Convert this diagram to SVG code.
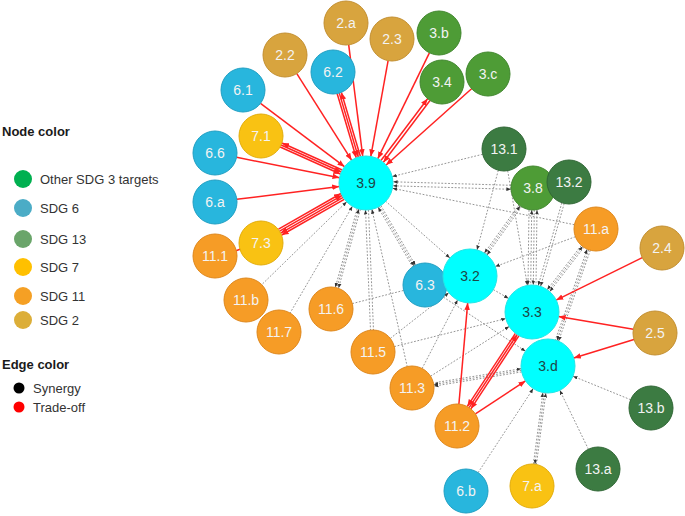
<svg xmlns="http://www.w3.org/2000/svg" width="685" height="516" viewBox="0 0 685 516">
<style>
.bg{fill:#ffffff}
.r{stroke:#ff2222;stroke-width:1.5;fill:none}
.s{stroke:#959595;stroke-width:1;stroke-dasharray:1.8 1.6;fill:none}
.rm{marker-end:url(#ra)}
.rs{marker-start:url(#ra)}
.sm{marker-end:url(#ga)}
.ss{marker-start:url(#ga)}
circle{stroke-width:1}
.cy{fill:#00ffff;stroke:#22e6e6}
.bl{fill:#28b6dd;stroke:#1f9fc3}
.gd{fill:#d8a43e;stroke:#c38f30}
.gr{fill:#4e9c36;stroke:#40872d}
.dg{fill:#3c7b42;stroke:#306735}
.ye{fill:#f9c213;stroke:#e3ad0b}
.or{fill:#f69c26;stroke:#df871b}
text{font-family:"Liberation Sans",Arial,sans-serif}
.t{font-size:14px;fill:#f3f3f3;text-anchor:middle}
.tc{font-size:14px;fill:#1d4646;text-anchor:middle}
.lh{font-size:13px;font-weight:bold;fill:#1a1a1a}
.lt{font-size:13px;fill:#333333}
</style>
<defs>
<marker id="ra" viewBox="0 0 10 10" refX="10" refY="5" markerWidth="7" markerHeight="7" markerUnits="userSpaceOnUse" orient="auto-start-reverse"><path d="M0,1 L10,5 L0,9 z" fill="#ff2222"/></marker>
<marker id="ga" viewBox="0 0 10 10" refX="10" refY="5" markerWidth="4.5" markerHeight="4.5" markerUnits="userSpaceOnUse" orient="auto-start-reverse"><path d="M0,1 L10,5 L0,9 z" fill="#333333"/></marker>
</defs>
<rect class="bg" x="0" y="0" width="685" height="516"/>

<g id="legend">
<text class="lh" x="2" y="136">Node color</text>
<circle cx="23" cy="179" r="9" style="fill:#00b050;stroke:none"/>
<text class="lt" x="40" y="184">Other SDG 3 targets</text>
<circle cx="23" cy="208" r="9" style="fill:#4bacc6;stroke:none"/>
<text class="lt" x="40" y="213">SDG 6</text>
<circle cx="23" cy="239" r="9" style="fill:#6aa56a;stroke:none"/>
<text class="lt" x="40" y="244">SDG 13</text>
<circle cx="23" cy="267" r="9" style="fill:#ffc000;stroke:none"/>
<text class="lt" x="40" y="272">SDG 7</text>
<circle cx="23" cy="296" r="9" style="fill:#f5a024;stroke:none"/>
<text class="lt" x="40" y="301">SDG 11</text>
<circle cx="23" cy="320" r="9" style="fill:#dcae38;stroke:none"/>
<text class="lt" x="40" y="325">SDG 2</text>
<text class="lh" x="2" y="369">Edge color</text>
<circle cx="19" cy="388" r="5.5" style="fill:#000000;stroke:none"/>
<text class="lt" x="33" y="393">Synergy</text>
<circle cx="19" cy="407" r="5.5" style="fill:#ff0000;stroke:none"/>
<text class="lt" x="33" y="412">Trade-off</text>
</g>

<g id="connectors">
<line class="s sm" x1="482.6" y1="154.3" x2="392.2" y2="176.5"/>
<line class="s sm" x1="511.1" y1="185.3" x2="393.1" y2="181.8"/>
<line class="s sm ss" x1="510.9" y1="189.3" x2="392.9" y2="185.8"/>
<line class="s sm" x1="574.4" y1="224.7" x2="392.5" y2="188.3"/>
<line class="s sm" x1="498.3" y1="170.3" x2="477" y2="249.9"/>
<line class="s sm" x1="507.7" y1="170.7" x2="527.4" y2="285.4"/>
<line class="s sm" x1="518.9" y1="205" x2="484.4" y2="253.1"/>
<line class="s ss" x1="520.2" y1="205.9" x2="485.7" y2="254"/>
<line class="s sm" x1="521.5" y1="206.8" x2="487" y2="254.9"/>
<line class="s sm" x1="529" y1="210" x2="528" y2="285"/>
<line class="s ss" x1="531.7" y1="210" x2="530.7" y2="285"/>
<line class="s sm" x1="534.3" y1="210" x2="533.3" y2="285"/>
<line class="s ss" x1="537" y1="210" x2="536" y2="285"/>
<line class="s sm" x1="561.8" y1="202.9" x2="538.2" y2="285.7"/>
<line class="s sm" x1="564.2" y1="203.5" x2="540.6" y2="286.3"/>
<line class="s sm" x1="575.4" y1="236.7" x2="495.3" y2="266.6"/>
<line class="s sm" x1="581.3" y1="245.5" x2="547.2" y2="289.7"/>
<line class="s ss" x1="582.6" y1="246.4" x2="548.5" y2="290.6"/>
<line class="s sm" x1="583.9" y1="247.3" x2="549.8" y2="291.5"/>
<line class="s ss" x1="587.1" y1="249.3" x2="555.4" y2="340"/>
<line class="s sm" x1="588.7" y1="249.8" x2="557" y2="340.5"/>
<line class="s sm" x1="590.3" y1="250.3" x2="558.6" y2="341"/>
<line class="s ss" x1="378.1" y1="207.2" x2="412.6" y2="266.8"/>
<line class="s sm" x1="379.5" y1="206.4" x2="414" y2="266"/>
<line class="s sm" x1="380.9" y1="205.6" x2="415.4" y2="265.2"/>
<line class="s sm" x1="357.2" y1="208.6" x2="335.3" y2="287.4"/>
<line class="s ss" x1="358.8" y1="209" x2="336.9" y2="287.8"/>
<line class="s sm" x1="360.4" y1="209.4" x2="338.5" y2="288.2"/>
<line class="s ss" x1="346.7" y1="201.8" x2="261.8" y2="284.6"/>
<line class="s ss" x1="352.4" y1="206.3" x2="290.1" y2="313"/>
<line class="s ss" x1="365.5" y1="210" x2="370.5" y2="330"/>
<line class="s" x1="368.5" y1="210" x2="373.5" y2="330"/>
<line class="s ss" x1="371.9" y1="209.3" x2="407.2" y2="366.5"/>
<line class="s sm" x1="385.4" y1="201" x2="449.9" y2="258"/>
<line class="s sm" x1="443.4" y1="297.1" x2="525.5" y2="351.2"/>
<line class="s sm" x1="493.4" y1="289.6" x2="508.6" y2="298.4"/>
<line class="s" x1="352.3" y1="303.6" x2="403.7" y2="290.4"/>
<line class="s sm" x1="390.3" y1="338.4" x2="448.8" y2="292.7"/>
<line class="s sm" x1="394.3" y1="346.6" x2="505.8" y2="318.6"/>
<line class="s sm" x1="422.1" y1="368.5" x2="457.6" y2="300"/>
<line class="s sm" x1="430.6" y1="376.2" x2="509.2" y2="326.4"/>
<line class="s ss" x1="521.2" y1="368.7" x2="433.5" y2="382.9"/>
<line class="s sm" x1="521.4" y1="370.3" x2="433.7" y2="384.5"/>
<line class="s sm" x1="521.6" y1="371.9" x2="433.9" y2="386.1"/>
<line class="s sm" x1="478.1" y1="472.6" x2="533.2" y2="388.6"/>
<line class="s sm" x1="533.4" y1="464" x2="542.9" y2="392.6"/>
<line class="s ss" x1="534.9" y1="464.2" x2="544.4" y2="392.8"/>
<line class="s sm" x1="536.4" y1="464.4" x2="545.9" y2="393"/>
<line class="s sm" x1="588.4" y1="449.2" x2="559.8" y2="390.3"/>
<line class="s sm" x1="630.6" y1="399.7" x2="573" y2="376.2"/>
<line class="r rm" x1="348.7" y1="44.8" x2="362.7" y2="156.2"/>
<line class="r rm" x1="388.1" y1="60.7" x2="370.8" y2="156.4"/>
<line class="r rm" x1="429.4" y1="52.8" x2="377.8" y2="158.7"/>
<line class="r rm" x1="296.8" y1="73.6" x2="351.6" y2="160.2"/>
<line class="r rs" x1="341.4" y1="92.5" x2="360.4" y2="156.5"/>
<line class="r rm" x1="339.3" y1="93.1" x2="358.3" y2="157.1"/>
<line class="r rm" x1="337.2" y1="93.7" x2="356.2" y2="157.7"/>
<line class="r rm" x1="430" y1="100.5" x2="383.4" y2="162.3"/>
<line class="r rs" x1="427.6" y1="98.7" x2="381" y2="160.5"/>
<line class="r rm" x1="471.6" y1="88.7" x2="386.1" y2="165"/>
<line class="r rm" x1="260.5" y1="103.3" x2="344.5" y2="166.7"/>
<line class="r rs" x1="282" y1="143" x2="342.2" y2="170"/>
<line class="r rm" x1="281.1" y1="145" x2="341.3" y2="172"/>
<line class="r rm" x1="280.2" y1="147" x2="340.4" y2="174"/>
<line class="r rm" x1="236.6" y1="157.3" x2="339.5" y2="177.7"/>
<line class="r rm" x1="236.8" y1="199.3" x2="339.2" y2="186.4"/>
<line class="r rm" x1="278.5" y1="229.2" x2="341" y2="193.5"/>
<line class="r rm" x1="279.6" y1="231.1" x2="342.1" y2="195.4"/>
<line class="r rs" x1="280.7" y1="233.1" x2="343.2" y2="197.4"/>
<line class="r rs" x1="281.7" y1="235" x2="344.2" y2="199.3"/>
<line class="r" x1="234" y1="251.5" x2="242" y2="248.5"/>
<line class="r rm" x1="642.3" y1="257.7" x2="556.2" y2="300.1"/>
<line class="r rm" x1="633.3" y1="329.3" x2="558.6" y2="316.5"/>
<line class="r rm" x1="634" y1="339.5" x2="573.8" y2="358"/>
<line class="r rs" x1="467.3" y1="406.4" x2="515.4" y2="333.3"/>
<line class="r rm" x1="469.1" y1="407.6" x2="517.2" y2="334.5"/>
<line class="r rs" x1="470.9" y1="408.8" x2="519" y2="335.7"/>
<line class="r rm" x1="475.4" y1="413.9" x2="525.5" y2="380.9"/>
<line class="r rm" x1="458.9" y1="404.1" x2="467.7" y2="302.9"/>
</g>

<g id="n-2a"><circle class="gd" cx="346" cy="23" r="22"/><text class="t" x="346" y="28">2.a</text></g>
<g id="n-23"><circle class="gd" cx="392" cy="39" r="22"/><text class="t" x="392" y="44">2.3</text></g>
<g id="n-3b"><circle class="gr" cx="439" cy="33" r="22"/><text class="t" x="439" y="38">3.b</text></g>
<g id="n-22"><circle class="gd" cx="285" cy="55" r="22"/><text class="t" x="285" y="60">2.2</text></g>
<g id="n-62"><circle class="bl" cx="333" cy="72" r="22"/><text class="t" x="333" y="77">6.2</text></g>
<g id="n-34"><circle class="gr" cx="442" cy="82" r="22"/><text class="t" x="442" y="87">3.4</text></g>
<g id="n-3c"><circle class="gr" cx="488" cy="74" r="22"/><text class="t" x="488" y="79">3.c</text></g>
<g id="n-61"><circle class="bl" cx="243" cy="90" r="22"/><text class="t" x="243" y="95">6.1</text></g>
<g id="n-71"><circle class="ye" cx="261" cy="136" r="22"/><text class="t" x="261" y="141">7.1</text></g>
<g id="n-66"><circle class="bl" cx="215" cy="153" r="22"/><text class="t" x="215" y="158">6.6</text></g>
<g id="n-6a"><circle class="bl" cx="215" cy="202" r="22"/><text class="t" x="215" y="207">6.a</text></g>
<g id="n-73"><circle class="ye" cx="261" cy="243" r="22"/><text class="t" x="261" y="248">7.3</text></g>
<g id="n-111"><circle class="or" cx="215" cy="256" r="22"/><text class="t" x="215" y="261">11.1</text></g>
<g id="n-11b"><circle class="or" cx="246" cy="300" r="22"/><text class="t" x="246" y="305">11.b</text></g>
<g id="n-117"><circle class="or" cx="279" cy="332" r="22"/><text class="t" x="279" y="337">11.7</text></g>
<g id="n-116"><circle class="or" cx="331" cy="309" r="22"/><text class="t" x="331" y="314">11.6</text></g>
<g id="n-115"><circle class="or" cx="373" cy="352" r="22"/><text class="t" x="373" y="357">11.5</text></g>
<g id="n-113"><circle class="or" cx="412" cy="388" r="22"/><text class="t" x="412" y="393">11.3</text></g>
<g id="n-112"><circle class="or" cx="457" cy="426" r="22"/><text class="t" x="457" y="431">11.2</text></g>
<g id="n-63"><circle class="bl" cx="425" cy="285" r="22"/><text class="t" x="425" y="290">6.3</text></g>
<g id="n-131"><circle class="dg" cx="504" cy="149" r="22"/><text class="t" x="504" y="154">13.1</text></g>
<g id="n-38"><circle class="gr" cx="533" cy="188" r="22"/><text class="t" x="533" y="193">3.8</text></g>
<g id="n-132"><circle class="dg" cx="569" cy="182" r="22"/><text class="t" x="569" y="187">13.2</text></g>
<g id="n-11a"><circle class="or" cx="596" cy="229" r="22"/><text class="t" x="596" y="234">11.a</text></g>
<g id="n-24"><circle class="gd" cx="662" cy="248" r="22"/><text class="t" x="662" y="253">2.4</text></g>
<g id="n-25"><circle class="gd" cx="655" cy="333" r="22"/><text class="t" x="655" y="338">2.5</text></g>
<g id="n-13b"><circle class="dg" cx="651" cy="408" r="22"/><text class="t" x="651" y="413">13.b</text></g>
<g id="n-13a"><circle class="dg" cx="598" cy="469" r="22"/><text class="t" x="598" y="474">13.a</text></g>
<g id="n-7a"><circle class="ye" cx="532" cy="486" r="22"/><text class="t" x="532" y="491">7.a</text></g>
<g id="n-6b"><circle class="bl" cx="466" cy="491" r="22"/><text class="t" x="466" y="496">6.b</text></g>
<g id="n-39"><circle class="cy" cx="366" cy="183" r="27"/><text class="tc" x="366" y="188">3.9</text></g>
<g id="n-32"><circle class="cy" cx="470" cy="276" r="27"/><text class="tc" x="470" y="281">3.2</text></g>
<g id="n-33"><circle class="cy" cx="532" cy="312" r="27"/><text class="tc" x="532" y="317">3.3</text></g>
<g id="n-3d"><circle class="cy" cx="548" cy="366" r="27"/><text class="tc" x="548" y="371">3.d</text></g>
</svg>
